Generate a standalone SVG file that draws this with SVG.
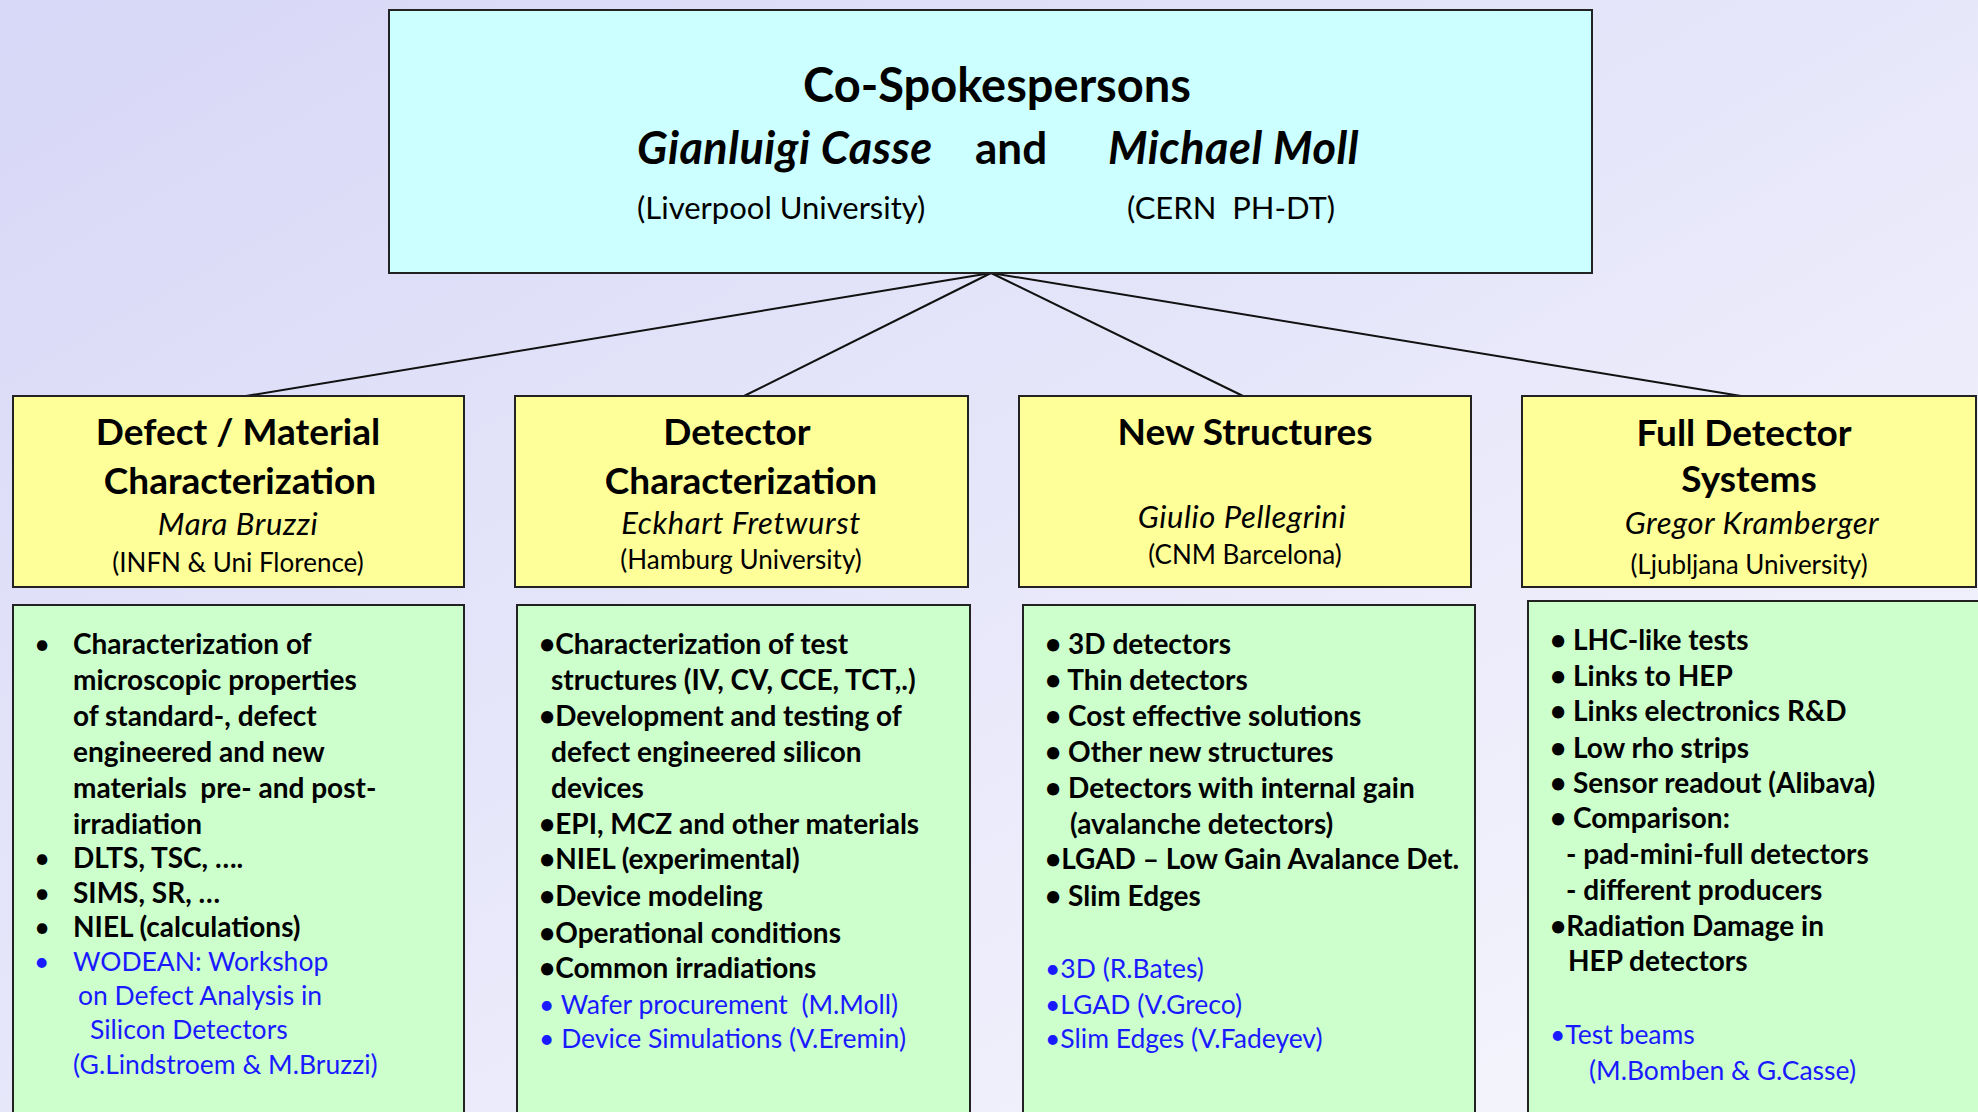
<svg xmlns="http://www.w3.org/2000/svg" width="1978" height="1112" viewBox="0 0 1978 1112">
<defs>
<linearGradient id="bg" x1="0" y1="0" x2="1" y2="1">
<stop offset="0" stop-color="#d7d7f7"/>
<stop offset="1" stop-color="#f7f7fd"/>
</linearGradient>
<style>
.box{stroke:#222;stroke-width:2}
.top{fill:#ccffff}
.yel{fill:#ffff99}
.grn{fill:#ccffcc}
text{font-family:Lato,"Open Sans","Liberation Sans",sans-serif;fill:#000}
.t{font-size:47px;font-weight:bold}
.n{font-size:45px;font-weight:bold;font-style:italic;letter-spacing:0.5px}
.a{font-size:31px}
.h{font-size:37px;font-weight:bold}
.p{font-size:31px;font-style:italic;letter-spacing:0.6px}
.u{font-size:26px}
.b{font-size:28px;font-weight:bold}
.bl{font-size:26.5px;fill:#1a1aff}
.c{text-anchor:middle}
.conn{stroke:#111;stroke-width:2;fill:none}
</style>
</defs>
<rect width="1978" height="1112" fill="url(#bg)"/>
<g id="connectors">
<line class="conn" x1="991" y1="273" x2="246" y2="396"/>
<line class="conn" x1="991" y1="273" x2="744" y2="396"/>
<line class="conn" x1="991" y1="273" x2="1243" y2="396"/>
<line class="conn" x1="991" y1="273" x2="1741" y2="396"/>
</g>
<g id="spokespersons">
<rect class="box top" x="389" y="10" width="1203" height="263"/>
<text class="t c" x="997" y="102">Co-Spokespersons</text>
<text class="n" x="637" y="164">Gianluigi Casse</text>
<text class="t" x="975" y="164" style="font-size:44px">and</text>
<text class="n" x="1108" y="164">Michael Moll</text>
<text class="a" x="637" y="219">(Liverpool University)</text>
<text class="a" x="1127" y="219" xml:space="preserve">(CERN  PH-DT)</text>
</g>
<g id="defect">
<rect class="box yel" x="13" y="396" width="451" height="191"/>
<text class="h c" x="238" y="445">Defect / Material</text>
<text class="h c" x="240" y="494">Characterization</text>
<text class="p c" x="238" y="535">Mara Bruzzi</text>
<text class="u c" x="238" y="572">(INFN &amp; Uni Florence)</text>
</g>
<g id="detector">
<rect class="box yel" x="515" y="396" width="453" height="191"/>
<text class="h c" x="737" y="445">Detector</text>
<text class="h c" x="741" y="494">Characterization</text>
<text class="p c" x="741" y="534">Eckhart Fretwurst</text>
<text class="u c" x="741" y="569">(Hamburg University)</text>
</g>
<g id="newstructures">
<rect class="box yel" x="1019" y="396" width="452" height="191"/>
<text class="h c" x="1245" y="445">New Structures</text>
<text class="p c" x="1242" y="528">Giulio Pellegrini</text>
<text class="u c" x="1245" y="564">(CNM Barcelona)</text>
</g>
<g id="fullsystems">
<rect class="box yel" x="1522" y="396" width="454" height="191"/>
<text class="h c" x="1744" y="446">Full Detector</text>
<text class="h c" x="1749" y="492">Systems</text>
<text class="p c" x="1752" y="534">Gregor Kramberger</text>
<text class="u c" x="1749" y="574">(Ljubljana University)</text>
</g>
<g id="defect-topics">
<rect class="box grn" x="13" y="605" width="451" height="520"/>
<text class="b" x="34" y="654" style="font-weight:normal">•</text>
<text class="b" x="73" y="654">Characterization of</text>
<text class="b" x="73" y="690">microscopic properties</text>
<text class="b" x="73" y="726">of standard-, defect</text>
<text class="b" x="73" y="762">engineered and new</text>
<text class="b" x="73" y="798" xml:space="preserve">materials  pre- and post-</text>
<text class="b" x="73" y="834">irradiation</text>
<text class="b" x="34" y="868" style="font-weight:normal">•</text>
<text class="b" x="73" y="868">DLTS, TSC, ….</text>
<text class="b" x="34" y="903" style="font-weight:normal">•</text>
<text class="b" x="73" y="903">SIMS, SR, …</text>
<text class="b" x="34" y="937" style="font-weight:normal">•</text>
<text class="b" x="73" y="937">NIEL (calculations)</text>
<text class="bl" x="34" y="971">•</text>
<text class="bl" x="73" y="971">WODEAN: Workshop</text>
<text class="bl" x="78" y="1005">on Defect Analysis in</text>
<text class="bl" x="90" y="1039">Silicon Detectors</text>
<text class="bl" x="73" y="1074">(G.Lindstroem &amp; M.Bruzzi)</text>
</g>
<g id="detector-topics">
<rect class="box grn" x="517" y="605" width="453" height="520"/>
<text class="b" x="539" y="654">•Characterization of test</text>
<text class="b" x="551" y="690">structures (IV, CV, CCE, TCT,.)</text>
<text class="b" x="539" y="726">•Development and testing of</text>
<text class="b" x="551" y="762">defect engineered silicon</text>
<text class="b" x="551" y="798">devices</text>
<text class="b" x="539" y="834">•EPI, MCZ and other materials</text>
<text class="b" x="539" y="869">•NIEL (experimental)</text>
<text class="b" x="539" y="906">•Device modeling</text>
<text class="b" x="539" y="943">•Operational conditions</text>
<text class="b" x="539" y="978">•Common irradiations</text>
<text class="bl" x="539" y="1014" xml:space="preserve">• Wafer procurement  (M.Moll)</text>
<text class="bl" x="539" y="1048">• Device Simulations (V.Eremin)</text>
</g>
<g id="newstructures-topics">
<rect class="box grn" x="1023" y="605" width="452" height="520"/>
<text class="b" x="1045" y="654">• 3D detectors</text>
<text class="b" x="1045" y="690">• Thin detectors</text>
<text class="b" x="1045" y="726">• Cost effective solutions</text>
<text class="b" x="1045" y="762">• Other new structures</text>
<text class="b" x="1045" y="798">• Detectors with internal gain</text>
<text class="b" x="1070" y="834">(avalanche detectors)</text>
<text class="b" x="1045" y="869">•LGAD – Low Gain Avalance Det.</text>
<text class="b" x="1045" y="906">• Slim Edges</text>
<text class="bl" x="1045" y="978">•3D (R.Bates)</text>
<text class="bl" x="1045" y="1014">•LGAD (V.Greco)</text>
<text class="bl" x="1045" y="1048">•Slim Edges (V.Fadeyev)</text>
</g>
<g id="fullsystems-topics">
<rect class="box grn" x="1528" y="601" width="470" height="525"/>
<text class="b" x="1550" y="650">• LHC-like tests</text>
<text class="b" x="1550" y="686">• Links to HEP</text>
<text class="b" x="1550" y="721">• Links electronics R&amp;D</text>
<text class="b" x="1550" y="758">• Low rho strips</text>
<text class="b" x="1550" y="793">• Sensor readout (Alibava)</text>
<text class="b" x="1550" y="828">• Comparison:</text>
<text class="b" x="1566" y="864">- pad-mini-full detectors</text>
<text class="b" x="1566" y="900">- different producers</text>
<text class="b" x="1550" y="936">•Radiation Damage in</text>
<text class="b" x="1568" y="971">HEP detectors</text>
<text class="bl" x="1550" y="1044">•Test beams</text>
<text class="bl" x="1589" y="1080">(M.Bomben &amp; G.Casse)</text>
</g>
</svg>
